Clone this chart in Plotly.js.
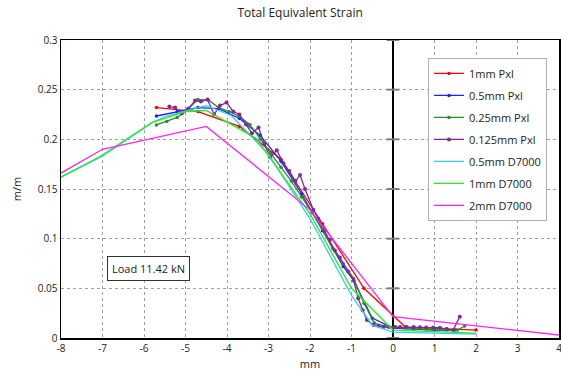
<!DOCTYPE html>
<html>
<head>
<meta charset="utf-8">
<script src="https://cdn.plot.ly/plotly-3.0.1.min.js"></script>
<style>html,body{margin:0;padding:0;background:#fff;}#chart{width:561px;height:374px;}</style>
</head>
<body>
<div id="chart"></div>
<script>
// Series data
const seriesNames = ["1mm Pxl","0.5mm Pxl","0.25mm Pxl","0.125mm Pxl","0.5mm D7000","1mm D7000","2mm D7000"];

const redX = [-5.7,-4.7,-3.7,-2.7,-1.7,-0.7,0.3,1.3,2.0];
const redY = [0.232,0.228,0.213,0.18,0.115,0.05,0.011,0.009,0.008];

const blueX = [-5.7,-5.2,-4.7,-4.2,-3.7,-3.2,-2.7,-2.2,-1.7,-1.2,-0.95,-0.5,0,0.5,1.0,1.5];
const blueY = [0.2235,0.228,0.232,0.231,0.221,0.204,0.178,0.145,0.108,0.072,0.058,0.02,0.01,0.009,0.008,0.008];

const dgreenX = [-5.7,-5.45,-5.2,-4.95,-4.7,-4.45,-4.2,-3.95,-3.7,-3.45,-3.2,-2.95,-2.7,-2.45,-2.2,-1.95,-1.7,-1.45,-1.2,-0.95,-0.7,-0.45,-0.2,0.05,0.3,0.55,0.8,1.05,1.3,1.55,1.73];
const dgreenY = [0.2145,0.218,0.222,0.23,0.24,0.2396,0.232,0.228,0.223,0.215,0.2,0.186,0.172,0.158,0.142,0.126,0.11,0.09,0.075,0.06,0.035,0.015,0.012,0.011,0.01,0.009,0.009,0.008,0.008,0.008,0.012];

const purpleX = [-5.39,-5.25,-5.09,-4.93,-4.77,-4.63,-4.47,-4.31,-4.17,-4.01,-3.85,-3.7,-3.54,-3.4,-3.24,-3.1,-2.96,-2.8,-2.64,-2.5,-2.35,-2.24,-2.12,-1.92,-1.8,-1.65,-1.52,-1.4,-1.28,-1.08,-0.95,-0.84,-0.73,-0.63,-0.47,-0.35,-0.23,-0.1,0.05,0.17,0.33,0.5,0.65,0.8,0.97,1.13,1.29,1.45,1.61];
const purpleY = [0.233,0.232,0.226,0.231,0.239,0.238,0.24,0.225,0.234,0.237,0.228,0.225,0.215,0.206,0.212,0.195,0.182,0.189,0.176,0.168,0.158,0.164,0.15,0.129,0.12,0.108,0.099,0.088,0.081,0.067,0.058,0.04,0.028,0.018,0.013,0.012,0.011,0.011,0.011,0.011,0.011,0.011,0.0108,0.0106,0.0105,0.0104,0.009,0.008,0.0215];

const cyanX = [-8,-7,-5.8,-5.5,-4.5,-3.9,-3,-2,-1,-0.5,0,2];
const cyanY = [0.162,0.183,0.217,0.223,0.234,0.224,0.185,0.12,0.043,0.013,0.006,0.004];

const greenX = [-8,-7.05,-5.8,-5.0,-4.5,-3.3,-2.0,-1.0,0,2];
const greenY = [0.162,0.183,0.217,0.228,0.229,0.201,0.125,0.05,0.008,0.005];

const magentaX = [-8,-7,-4.5,-2,0,4];
const magentaY = [0.166,0.19,0.213,0.129,0.0215,0.003];

const xTicks = [-8,-7,-6,-5,-4,-3,-2,-1,0,1,2,3,4];
const yTicks = [0,0.05,0.1,0.15,0.2,0.25,0.3];
const yTickText = ["0","0.05","0.1","0.15","0.2","0.25","0.3"];

const colors = ["#ff0000","#2020ff","#2e8b2e","#7f2a96","#33ccff","#22ee22","#ff22ff"];
const xs = [redX,blueX,dgreenX,purpleX,cyanX,greenX,magentaX];
const ys = [redY,blueY,dgreenY,purpleY,cyanY,greenY,magentaY];
const hasMarkers = [true,true,true,true,false,false,false];

const traces = seriesNames.map((n,i)=>({
  x: xs[i], y: ys[i], name: n, type:'scatter',
  mode: hasMarkers[i] ? 'lines+markers' : 'lines',
  line:{color:colors[i], width:1.3},
  marker:{color:colors[i], size: i===3?4:3.5},
  legendgroup: 'g'+i
}));

// tick marks across the zero line (y axis crossing at x=0)
traces.push({
  x: yTicks.map(()=>0), y: yTicks, type:'scatter', mode:'markers',
  marker:{symbol:'line-ew-open', size:9, line:{color:'#000', width:2}},
  showlegend:false, hoverinfo:'skip', cliponaxis:false
});

const font = "Open Sans, Liberation Sans, sans-serif";
const layout = {
  width:561, height:374,
  margin:{l:61, r:2, t:40, b:36},
  paper_bgcolor:'#fff', plot_bgcolor:'#fff',
  font:{family:font, size:11, color:'#404040'},
  title:{text:'Total Equivalent Strain', x:0.535, xanchor:'center', y:0.965, yanchor:'middle', font:{family:font, size:12, color:'#222'}},
  xaxis:{
    range:[-8,4], tickvals:xTicks, ticktext:xTicks.map(String),
    ticklabeloverflow:'allow',
    showgrid:true, gridcolor:'#a0a0a0', griddash:'dot', gridwidth:1,
    zeroline:true, zerolinecolor:'#000', zerolinewidth:2,
    showline:true, linecolor:'#000', linewidth:1.5, mirror:true,
    ticks:'', tickfont:{size:10, color:'#222'},
    title:{text:'mm', font:{size:11, color:'#222'}, standoff:7}
  },
  yaxis:{
    range:[0,0.3], tickvals:yTicks, ticktext:yTickText,
    showgrid:true, gridcolor:'#a0a0a0', griddash:'dot', gridwidth:1,
    zeroline:false,
    showline:true, linecolor:'#000', linewidth:1.5, mirror:true,
    ticks:'', tickfont:{size:10, color:'#222'},
    title:{text:'m/m', font:{size:11, color:'#222'}, standoff:14}
  },
  legend:{
    x:0.737, y:0.94, xanchor:'left', yanchor:'top',
    bgcolor:'#fff', bordercolor:'#b0b0b0', borderwidth:1,
    font:{family:font, size:11, color:'#222'},
    tracegroupgap:3, itemwidth:30
  },
  annotations:[{
    x:-5.9, y:0.0695, xref:'x', yref:'y', text:'Load 11.42 kN', showarrow:false,
    font:{family:font, size:11, color:'#222'},
    bordercolor:'#333', borderwidth:1, borderpad:4, bgcolor:'#fff'
  }],
  showlegend:true
};

Plotly.newPlot('chart', traces, layout, {staticPlot:true, displayModeBar:false});
</script>
</body>
</html>
